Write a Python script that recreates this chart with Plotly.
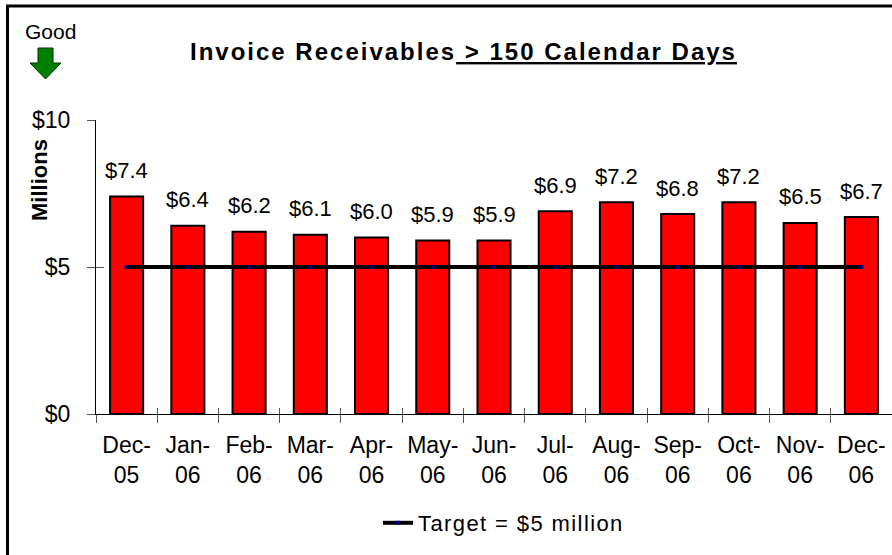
import plotly.graph_objects as go

months = ["Dec-05", "Jan-06", "Feb-06", "Mar-06", "Apr-06", "May-06", "Jun-06",
          "Jul-06", "Aug-06", "Sep-06", "Oct-06", "Nov-06", "Dec-06"]
receivables = [7.4, 6.4, 6.2, 6.1, 6.0, 5.9, 5.9, 6.9, 7.2, 6.8, 7.2, 6.5, 6.7]
target = [5] * len(months)
y_ticks = [0, 5, 10]
y_tick_text = ["$0", "$5", "$10"]

W, H = 892, 555
L, R, T, B = 96, 0, 120, 141
PW, PH = W - L - R, H - T - B


def px(x):
    return (x - L) / PW


def py(y):
    return (H - B - y) / PH


FONT = "Liberation Sans, Arial, sans-serif"
tick_labels = [m.replace("-", "-<br>") for m in months]
xrange = [-0.5, len(months) - 0.5]

fig = go.Figure()
fig.add_trace(go.Bar(
    x=months, y=receivables, marker=dict(color="#FF0000", line=dict(color="black", width=2)),
    showlegend=False, hoverinfo="y", xaxis="x", yaxis="y"))
fig.add_trace(go.Scatter(
    x=months, y=target, mode="lines+markers",
    name="<span style='letter-spacing:1.4px'>Target = $5 million</span>",
    line=dict(color="black", width=4),
    marker=dict(color="#000080", size=4, symbol="square"), xaxis="x2", yaxis="y2"))

for m, v in zip(months, receivables):
    fig.add_annotation(x=m, y=v, xref="x", yref="y", text=f"${v:.1f}", showarrow=False,
                       yanchor="middle", yshift=26,
                       font=dict(size=22, color="black", family=FONT))

# Outer border
fig.add_shape(type="rect", xref="paper", yref="paper", x0=px(7.5), x1=px(900), y0=py(6), y1=py(600),
              line=dict(color="black", width=3), layer="below")

# Green "Good" arrow
pts = [(38, 48), (53, 48), (53, 63), (61, 63), (45.5, 79), (30, 63), (38, 63)]
path = "M " + " L ".join(f"{px(a)},{py(b)}" for a, b in pts) + " Z"
fig.add_shape(type="path", xref="paper", yref="paper", path=path,
              fillcolor="#008000", line=dict(color="#003300", width=1))
fig.add_annotation(xref="paper", yref="paper", x=px(50), y=py(32), text="Good", showarrow=False,
                   font=dict(size=21, color="black", family=FONT), xanchor="center", yanchor="middle")

# Y axis title
fig.add_annotation(xref="paper", yref="paper", x=px(39), y=py(180), text="<b>Millions</b>",
                   showarrow=False, textangle=-90, xanchor="center", yanchor="middle",
                   font=dict(size=22, color="black", family=FONT))

# Title
fig.add_annotation(xref="paper", yref="paper", x=px(463), y=py(52),
                   text="<span style='letter-spacing:2px'><b>Invoice Receivables"
                        "<span style='text-decoration:underline'> &gt; 150 Calendar Days</span></b></span>",
                   showarrow=False, xanchor="center", yanchor="middle",
                   font=dict(size=24, color="black", family=FONT))

axis_common = dict(showgrid=False, zeroline=False)
fig.update_layout(
    width=W, height=H, margin=dict(l=L, r=R, t=T, b=B, autoexpand=False),
    paper_bgcolor="white", plot_bgcolor="white",
    font=dict(family=FONT, size=22, color="black"),
    bargap=0.46,
    showlegend=True,
    legend=dict(orientation="h", x=px(378), xanchor="left", y=py(523), yanchor="middle",
                font=dict(size=22), bgcolor="rgba(0,0,0,0)"),
    xaxis=dict(tickmode="array", tickvals=months, ticktext=tick_labels, tickson="boundaries",
               ticks="outside", ticklen=8, tickcolor="#555", showline=True, linecolor="black",
               linewidth=1, range=xrange, tickfont=dict(size=23), ticklabelstandoff=10,
               **axis_common),
    yaxis=dict(range=[0, 10], tickvals=y_ticks, ticktext=y_tick_text, ticks="outside", ticklen=8,
               tickcolor="#555", showline=True, linecolor="black", linewidth=1,
               tickfont=dict(size=23), ticklabelstandoff=12, **axis_common),
    xaxis2=dict(overlaying="x", anchor="y2", side="bottom", tickmode="array", tickvals=months,
                ticktext=["" for _ in months], tickson="boundaries", ticks="inside", ticklen=6,
                tickcolor="#555", showline=False, range=xrange, categoryorder="array",
                categoryarray=months, **axis_common),
    yaxis2=dict(overlaying="y", anchor="x2", side="left", range=[0, 10], tickvals=y_ticks,
                ticktext=["" for _ in y_ticks], ticks="inside", ticklen=8, tickcolor="#555",
                showline=False, **axis_common),
)

fig.write_html("out.html", config={"displayModeBar": False},
               post_script="document.body.style.margin='0';")
